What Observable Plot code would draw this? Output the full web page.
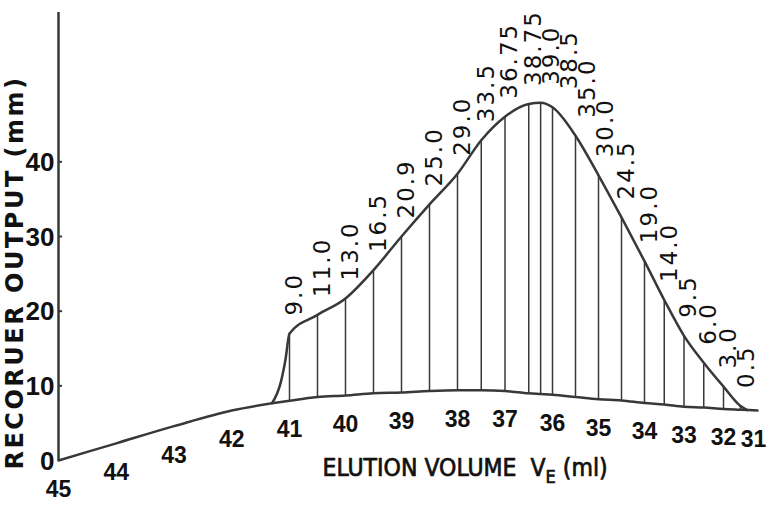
<!DOCTYPE html>
<html>
<head>
<meta charset="utf-8">
<script src="https://cdn.jsdelivr.net/npm/d3@7"></script>
<script src="https://cdn.jsdelivr.net/npm/@observablehq/plot@0.6"></script>
<style>
  html, body { margin: 0; padding: 0; background: #ffffff; }
  #chart svg { display: block; }
  g[font-family="DejaVu Sans"] text { letter-spacing: 2px; }
  g[font-family="DejaVu Sans, sans-serif"] text { letter-spacing: 2.5px; }
</style>
</head>
<body>
<div id="chart"></div>
<script>
// x-axis tick values (ml) and the height of the drawn baseline under each tick
const tickVolumes  = [45, 44, 43, 42, 41, 40, 39, 38, 37, 36, 35, 34, 33, 32, 31];
const tickBaseline = [0, 2.3, 4.6, 6.7, 8.0, 8.7, 9.1, 9.4, 9.3, 8.8, 8.2, 7.7, 7.2, 6.9, 6.7];

// sampled elution volumes (vertical lines), the written peak heights, and the baseline under each line
const sampleVolumes  = [41, 40.5, 40, 39.5, 39, 38.5, 38, 37.5, 37, 36.5, 36.25, 36, 35.5, 35, 34.5, 34, 33.5, 33, 32.5, 32, 31.5];
const peakHeights    = [9.0, 11.0, 13.0, 16.5, 20.9, 25.0, 29.0, 33.5, 36.75, 38.75, 39.0, 38.5, 35.0, 30.0, 24.5, 19.0, 14.0, 9.5, 6.0, 3.0, 0.5];
const sampleBaseline = [8.0, 8.5, 8.7, 9.0, 9.1, 9.3, 9.4, 9.4, 9.3, 9.0, 8.9, 8.8, 8.5, 8.2, 8.05, 7.7, 7.5, 7.2, 7.1, 6.9, 6.8];

// leading edge of the peak before the first line, and where the tail meets the baseline
const riseVolumes = [41.3, 41.15, 41.07];
const riseOutput  = [7.7, 10.5, 13.5];
const tailVolumes = [31.3];
const tailOutput  = [6.75];

// y-axis ticks
const yTicks = [0, 10, 20, 30, 40];

// ---- scale set-up (the hand-drawn volume axis is not evenly spaced) ----
const W = 768;
const xOptions = {
  type: "linear",
  domain: [45, 41, 38, 36, 34, 32, 31],
  range: [58, 289, 457, 552, 644, 723, 757],
  axis: null
};
const xScale = Plot.scale({x: xOptions});

// ---- tables built from the arrays ----
// tick labels: keep the last one inside the picture
const ticks = tickVolumes.map((v, i) => ({
  v, b: tickBaseline[i], lv: xScale.invert(Math.min(xScale.apply(v), W - 15))
}));
const samples = sampleVolumes.map((v, i) => ({
  v, h: peakHeights[i], b: sampleBaseline[i], t: sampleBaseline[i] + peakHeights[i]
}));
// keep the rotated value labels from colliding (spread them apart like the drawing does)
let prevPx = -Infinity;
samples.forEach(d => {
  const px = Math.max(xScale.apply(d.v), prevPx + 18);
  prevPx = px;
  d.lv = xScale.invert(px);
});

const baseMap = new Map();
ticks.forEach(d => baseMap.set(d.v, d.b));
samples.forEach(d => baseMap.set(d.v, d.b));
const baseline = Array.from(baseMap, ([v, o]) => ({v, o})).sort((a, b) => b.v - a.v);

const peak = [
  ...riseVolumes.map((v, i) => ({v, o: riseOutput[i]})),
  ...samples.map(d => ({v: d.v, o: d.t})),
  ...tailVolumes.map((v, i) => ({v, o: tailOutput[i]}))
].sort((a, b) => b.v - a.v);

const fmt = h => (h % 1 === 0 ? h.toFixed(1) : String(h));
const ink = "#111";
const pen = "#383838";

const plot = Plot.plot({
  width: W,
  height: 507,
  marginLeft: 58,
  marginRight: 11,
  marginTop: 12,
  marginBottom: 47,
  x: xOptions,
  y: {type: "linear", domain: [0, 60], axis: null},
  style: {background: "#ffffff", color: ink, overflow: "visible"},
  marks: [
    // y axis line and small tick marks
    Plot.ruleX([45], {stroke: pen, strokeWidth: 2.5}),
    Plot.ruleY(yTicks.filter(d => d > 0), {y: d => d, x1: 45, x2: 44.93, stroke: pen, strokeWidth: 2}),
    Plot.text(yTicks, {
      x: 45, y: d => d, text: d => String(d), textAnchor: "end", dx: -4, dy: 1,
      fontSize: 26, fontWeight: "bold", fontFamily: "Liberation Sans, Arial, sans-serif", fill: ink
    }),
    // baseline
    Plot.line(baseline, {x: "v", y: "o", curve: "monotone-x", stroke: pen, strokeWidth: 2.5}),
    // vertical sample lines
    Plot.ruleX(samples, {x: "v", y1: "b", y2: "t", stroke: pen, strokeWidth: 1.5}),
    // peak envelope
    Plot.line(peak, {x: "v", y: "o", curve: "monotone-x", stroke: pen, strokeWidth: 2.5}),
    // peak height labels
    Plot.text(samples, {
      x: "lv", y: "t", text: d => fmt(d.h), rotate: -90, textAnchor: "start", lineAnchor: "middle",
      dx: 5, dy: -18, fontSize: 23, fontFamily: "DejaVu Sans", fill: ink
    }),
    // x tick labels following the baseline
    Plot.text(ticks, {
      x: "lv", y: "b", text: d => String(d.v), dy: 29, lineAnchor: "middle",
      fontSize: 23, fontWeight: "bold", fontFamily: "Liberation Sans, Arial, sans-serif", fill: ink
    }),
    // axis titles
    Plot.text(["RECORUER OUTPUT (mm)"], {
      frameAnchor: "left", rotate: -90, dx: -43, dy: 36, textAnchor: "middle", lineAnchor: "middle",
      fontSize: 24, fontWeight: "bold", fontFamily: "DejaVu Sans, sans-serif", fill: ink
    }),
    Plot.text(["ELUTION VOLUME VE (ml)"], {
      frameAnchor: "bottom-left", textAnchor: "start", lineAnchor: "middle", dx: 264, dy: 8,
      fontSize: 24.5, fontFamily: "DejaVu Sans Condensed, DejaVu Sans, sans-serif",
      fill: ink, stroke: ink, strokeWidth: 0.7
    })
  ]
});

// subscript E in V_E
plot.querySelectorAll("text").forEach(t => {
  if (t.textContent === "ELUTION VOLUME VE (ml)") {
    const ns = "http://www.w3.org/2000/svg";
    t.textContent = "ELUTION VOLUME  V";
    const sub = document.createElementNS(ns, "tspan");
    sub.setAttribute("dy", "7");
    sub.setAttribute("font-size", "18");
    sub.textContent = "E";
    const rest = document.createElementNS(ns, "tspan");
    rest.setAttribute("dy", "-7");
    rest.textContent = " (ml)";
    t.appendChild(sub);
    t.appendChild(rest);
  }
});

document.getElementById("chart").appendChild(plot);
</script>
</body>
</html>
